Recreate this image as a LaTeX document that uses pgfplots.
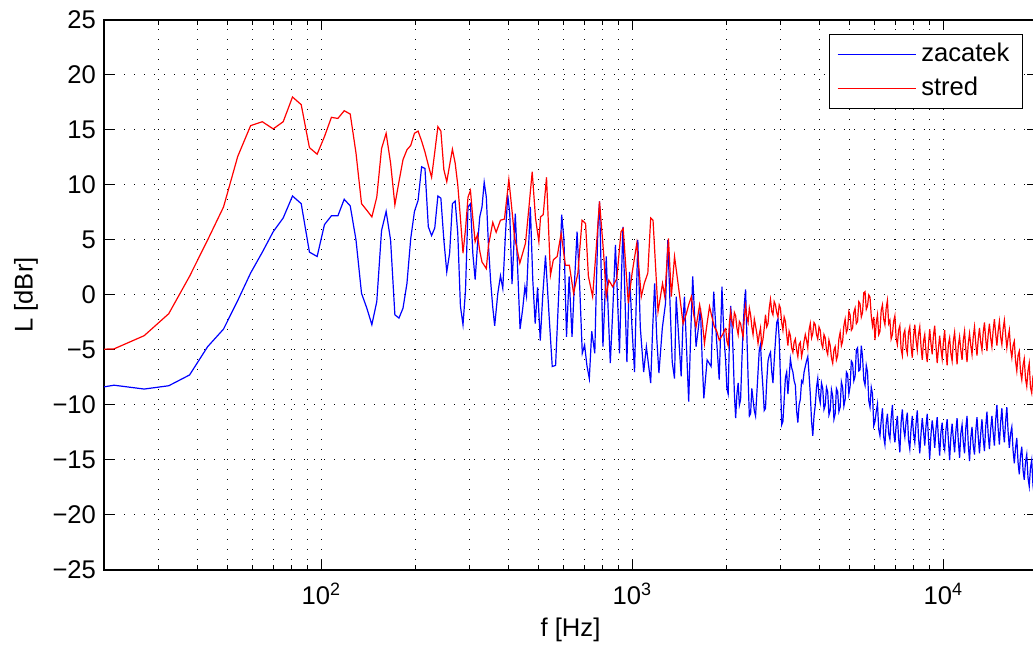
\documentclass[border=0pt]{standalone}
\usepackage{fontspec}
\setmainfont{Liberation Sans}
\usepackage{pgfplots}
\usepackage{pgfplotstable}
\pgfplotsset{compat=1.18}

% shared high-frequency part (f [Hz], zacatek, stred)
\pgfplotstableread{
f z s
1995 -6.0 -3.0
2013 -8.5 -4.2
2032 -9.0 -4.6
2051 -4.0 -2.5
2070 -1.0 -1.5
2089 -2.5 -2.4
2109 -5.5 -2.8
2128 -9.0 -1.6
2148 -11.2 -1.9
2168 -9.0 -3.0
2188 -8.0 -3.6
2208 -10.0 -2.4
2228 -9.5 -2.6
2249 -6.0 -3.3
2270 -3.0 -3.8
2291 -0.8 -2.0
2312 0.5 -1.0
2333 -3.5 -2.0
2355 -7.5 -2.5
2377 -11.0 -1.2
2399 -10.8 -1.8
2421 -8.5 -2.9
2443 -9.5 -3.6
2466 -10.5 -2.2
2489 -11.0 -2.8
2512 -9.0 -3.5
2535 -7.0 -4.4
2558 -5.0 -3.6
2582 -4.5 -3.0
2606 -6.8 -4.6
2630 -8.5 -4.0
2654 -10.5 -3.0
2679 -10.3 -1.8
2704 -7.8 -2.9
2729 -6.0 -2.6
2754 -5.5 -1.2
2780 -5.2 -0.4
2806 -7.0 -1.5
2831 -8.0 -1.8
2857 -6.0 -0.6
2884 -4.2 -0.9
2911 -2.5 -1.6
2938 -2.2 -2.0
2965 -4.0 -0.9
2992 -7.5 -1.2
3020 -11.8 -2.5
3048 -11.5 -3.2
3076 -9.5 -2.0
3105 -7.5 -2.4
3134 -7.0 -3.6
3162 -9.0 -4.6
3191 -7.5 -3.3
3221 -5.8 -3.7
3251 -6.6 -4.8
3281 -7.0 -5.2
3311 -7.8 -4.3
3342 -8.2 -4.0
3373 -10.5 -5.0
3404 -11.6 -5.6
3435 -10.0 -4.5
3467 -9.5 -4.3
3499 -7.8 -5.6
3532 -8.0 -5.0
3565 -7.0 -4.2
3597 -6.5 -3.6
3630 -6.0 -4.1
3664 -5.6 -4.8
3698 -7.2 -3.2
3733 -9.0 -2.6
3768 -11.5 -3.9
3802 -12.8 -3.5
3837 -11.0 -2.5
3873 -10.0 -2.7
3909 -8.4 -3.6
3945 -7.6 -4.0
3981 -9.2 -2.9
4018 -9.8 -3.2
4055 -8.0 -4.4
4093 -8.5 -4.8
4131 -10.4 -3.6
4169 -10.0 -3.9
4208 -8.4 -5.0
4246 -8.8 -5.4
4285 -10.9 -4.1
4325 -10.5 -4.6
4365 -8.6 -5.7
4406 -9.2 -6.2
4447 -11.3 -5.0
4487 -10.8 -4.7
4529 -8.5 -5.9
4571 -8.8 -5.5
4613 -10.6 -4.0
4656 -10.2 -3.4
4699 -7.9 -4.6
4742 -8.4 -4.2
4786 -10.1 -2.8
4831 -9.5 -2.2
4876 -7.0 -3.4
4920 -7.2 -3.1
4966 -9.0 -1.5
5012 -8.3 -1.8
5058 -6.0 -3.2
5105 -6.2 -3.0
5152 -7.8 -1.6
5200 -7.4 -1.2
5248 -5.0 -2.6
5297 -4.8 -2.4
5346 -6.9 -0.6
5395 -6.8 -0.8
5445 -4.6 -2.0
5495 -5.6 -1.6
5546 -7.7 0.2
5598 -8.2 0.3
5650 -6.4 -1.3
5702 -7.0 -1.0
5755 -9.6 0.0
5808 -10.2 -0.2
5862 -8.4 -1.9
5916 -9.0 -2.8
5971 -11.9 -2.0
6026 -11.5 -4.1
6082 -10.6 -2.5
6138 -9.9 -1.8
6195 -12.2 -3.6
6252 -12.8 -3.3
6310 -11.4 -1.4
6368 -10.3 -0.9
6427 -12.9 -2.2
6486 -13.6 -2.7
6546 -11.7 -1.2
6607 -10.8 -0.5
6668 -12.6 -2.6
6730 -13.1 -2.3
6792 -11.2 -4.0
6855 -10.0 -3.6
6918 -12.4 -2.4
6982 -13.4 -1.9
7047 -11.9 -3.9
7112 -11.0 -4.5
7178 -13.0 -3.2
7244 -14.3 -2.8
7311 -11.6 -4.9
7379 -10.4 -5.5
7447 -12.1 -3.6
7516 -12.9 -3.2
7586 -11.5 -4.8
7656 -10.7 -5.3
7727 -13.2 -3.4
7798 -14.0 -2.9
7870 -12.2 -4.6
7943 -11.0 -5.7
8016 -12.6 -3.8
8091 -13.4 -2.7
8166 -11.7 -4.1
8241 -10.5 -5.0
8317 -12.9 -3.6
8395 -14.4 -2.9
8473 -12.6 -4.7
8551 -11.2 -5.9
8630 -12.4 -4.2
8710 -13.7 -3.6
8791 -11.9 -5.2
8872 -10.8 -6.1
8954 -13.1 -4.5
9036 -14.9 -3.1
9120 -12.7 -4.4
9204 -11.4 -5.4
9289 -12.4 -3.7
9376 -13.9 -2.8
9463 -12.2 -4.6
9550 -11.1 -6.2
9638 -13.0 -4.9
9727 -14.6 -3.7
9817 -12.5 -4.9
9908 -11.6 -5.8
10000 -13.6 -4.3
10093 -14.1 -3.2
10186 -12.3 -5.1
10280 -11.3 -6.4
10375 -13.2 -4.5
10471 -15.0 -3.9
10568 -12.9 -5.3
10666 -11.7 -6.0
10765 -13.1 -4.2
10864 -14.3 -3.4
10964 -12.4 -4.9
11066 -11.2 -6.3
11168 -13.3 -4.6
11272 -14.8 -3.8
11376 -12.6 -5.0
11482 -11.8 -5.9
11588 -13.4 -4.1
11695 -14.4 -3.3
11803 -12.1 -4.9
11912 -11.0 -6.1
12022 -13.6 -4.4
12134 -15.1 -3.5
12246 -13.0 -4.6
12359 -12.0 -5.4
12473 -13.7 -3.8
12589 -14.5 -2.9
12705 -12.4 -4.4
12823 -11.1 -5.5
12942 -12.9 -4.0
13062 -14.4 -3.0
13183 -12.6 -4.3
13305 -11.3 -5.0
13428 -13.1 -3.4
13552 -14.2 -2.5
13677 -12.0 -4.0
13804 -10.6 -5.1
13932 -12.7 -3.6
14060 -14.0 -2.6
14190 -12.2 -3.9
14322 -11.0 -4.7
14454 -12.5 -3.2
14588 -13.7 -2.2
14723 -11.4 -3.5
14859 -10.0 -4.6
14996 -12.1 -3.3
15136 -13.6 -2.4
15276 -11.6 -3.8
15417 -10.3 -4.5
15560 -12.2 -3.1
15704 -13.4 -2.3
15849 -11.5 -3.6
15996 -10.2 -4.8
16144 -12.4 -3.9
16293 -13.9 -3.2
16444 -12.6 -4.9
16596 -12.0 -5.7
16749 -14.1 -4.6
16904 -15.3 -4.2
17060 -13.9 -6.0
17219 -13.0 -6.9
17378 -15.2 -5.5
17539 -16.3 -5.1
17701 -14.6 -7.0
17865 -13.8 -7.7
18030 -15.9 -6.4
18197 -16.8 -5.8
18365 -15.2 -7.6
18535 -14.5 -8.3
18706 -16.6 -6.9
18880 -17.4 -6.2
19055 -15.7 -8.4
19231 -15.0 -8.9
19409 -17.3 -7.4
19588 -18.2 -7.1
19769 -16.5 -9.0
19953 -16.2 -9.8
}\hightab

\begin{document}
\begin{tikzpicture}
\begin{axis}[
    name=ax,
    scale only axis,
    width=466.5pt, height=275pt,
    xmode=log,
    xmin=20, xmax=20000,
    ymin=-25, ymax=25,
    xtick={100,1000,10000},
    xticklabels={10\textsuperscript{2},10\textsuperscript{3},10\textsuperscript{4}},
    minor xtick={20,30,40,50,60,70,80,90,200,300,400,500,600,700,800,900,2000,3000,4000,5000,6000,7000,8000,9000},
    ytick={-25,-20,...,25},
    yticklabels={−25,−20,−15,−10,−5,0,5,10,15,20,25},
    xmajorgrids, xminorgrids, ymajorgrids,
    major grid style={black, line width=0.5pt, dash pattern=on 0.6pt off 4.4pt},
    minor grid style={black, line width=0.5pt, dash pattern=on 0.6pt off 4.4pt},
    major tick length=5pt, minor tick length=2.5pt,
    tick style={black, line width=0.5pt},
    axis line style={black, line width=0.6pt},
    tick label style={font=\fontsize{12.8}{15}\selectfont},
    xticklabel style={yshift=-3pt},
    yticklabel style={xshift=-0.5pt},
    xlabel={f [Hz]},
    ylabel={L [dBr]},
    every axis x label/.style={at={(axis description cs:0.5,0)}, yshift=-30pt, anchor=center, font=\fontsize{12.8}{15}\selectfont},
    every axis y label/.style={at={(axis description cs:0,0.5)}, xshift=-39pt, rotate=90, anchor=center, font=\fontsize{12.8}{15}\selectfont},
    legend style={at={(axis description cs:1,1)}, anchor=north east, xshift=-7pt, yshift=-7pt,
        draw=black, line width=0.5pt, font=\fontsize{12.8}{15}\selectfont,
        inner xsep=4pt, inner ysep=1.5pt, row sep=0pt,
        nodes={text height=9.5pt, text depth=2.5pt, inner sep=2.5pt},
        cells={anchor=west}},
    legend image code/.code={\draw[#1] (0pt,0pt) -- (39pt,0pt);},
]
\addplot[blue, line width=0.6pt] coordinates {
(16.15,-8.8) (21.53,-8.2) (26.92,-8.55) (32.30,-8.25) (37.68,-7.27) (43.07,-4.7)
(48.45,-3.1) (53.83,-0.5) (59.22,2.0) (64.6,3.9) (69.98,5.75) (75.37,7.0)
(80.75,9.0) (86.13,8.3) (91.52,3.9) (96.9,3.5) (102.3,6.4) (107.7,7.2)
(113.0,7.2) (118.4,8.7) (123.8,8.1) (129.2,5.0) (134.6,0.15) (140.0,-1.2)
(145.3,-2.7) (150.7,-0.6) (156.1,5.85) (161.5,7.6) (166.9,5.0) (172.3,-1.8)
(177.6,-2.1) (183.0,-1.2) (188.4,1.05) (193.8,5.15) (199.2,7.6) (204.6,8.6)
(210.0,11.65) (215.3,11.5) (220.7,6.2) (226.1,5.4) (231.5,6.1) (236.9,9.0)
(242.2,8.8) (247.6,5.0) (253.0,2.1) (258.4,3.8) (263.8,8.3) (269.2,8.55)
(274.5,5.6) (279.9,-1.0) (285.3,-2.7) (290.7,0.45) (296.1,8.0) (301.5,8.3)
(306.8,3.8) (312.2,1.4) (317.6,4.55) (323.0,7.1) (328.4,8.0) (333.8,10.25)
(339.1,8.9) (344.5,4.5) (349.9,1.35) (355.3,-1.0) (360.7,-2.8) (369.2,0.15)
(376.6,1.75) (383.1,0.6) (390.9,5.6) (397.4,9.1) (403.3,7.4) (410.1,1.0)
(415.0,4.0) (420.2,7.4) (427.3,2.6) (435.3,-3.1) (444.1,-1.2) (451.2,0.75)
(456.4,-0.1) (463.0,4.0) (469.7,8.0) (478.3,1.35) (486.9,-2.6) (495.6,0.7)
(505.5,-4.15) (515.0,0.0) (525.5,3.6) (540.0,-2.0) (552.4,-6.5) (566.3,-6.4)
(580.3,0.45) (592.4,7.3) (602.5,5.0) (614,-3.8) (626,1.7) (639.6,-3.8)
(651,1.0) (664,5.75) (677,0.75) (690,-5.3) (702,-4.55) (714,-6.4) (727,-7.6)
(740,-3.3) (757,-5.3) (766,1.0) (775,6.2) (784,8.5) (794,2.0) (804,-4.7) (814,-1.0) (824,3.5)
(836,-1.5) (849,-6.2) (866,-1.0) (882,4.55) (895,0.0) (909,-5.3) (920,0.5) (932,6.2) (946,0.0) (960,-6.1) (979,2.1)
(997,-3.0) (1016,-7.0) (1028,-1.0) (1041,5.0) (1060,-2.9) (1087,-7.0) (1109,-4.7) (1145,-8.0)
(1162,-3.0) (1179,1.05) (1198,-4.0) (1217,-7.1) (1248,-3.0) (1278,-0.75) (1300,5.0) (1322,-1.0) (1343,-6.1) (1366,-7.6)
(1383,-0.15) (1410,-4.0) (1435,-7.4) (1452,-3.0) (1470,-0.15) (1494,-5.0) (1517,-9.7) (1540,-3.5) (1563,1.7) (1602,-4.7)
(1630,-3.0) (1655,-1.2) (1677,-6.0) (1697,-9.4) (1739,-5.9) (1791,-6.5) (1810,-2.5) (1826,0.3) (1864,-4.0) (1902,-7.7)
(1941,0.75) (1968,-3.5) (1995,-6.0)
};
\addlegendentry{zacatek}
\addplot[red, line width=0.6pt] coordinates {
(16.15,-5.0) (21.53,-4.9) (26.92,-3.7) (32.30,-1.7) (37.68,1.7) (43.07,5.0)
(48.45,8.0) (53.83,12.6) (59.22,15.4) (64.6,15.75) (69.98,15.1) (75.37,15.75)
(80.75,18.0) (86.13,17.3) (91.52,13.4) (96.9,12.8) (102.3,14.4) (107.7,16.15)
(113.0,16.05) (118.4,16.75) (123.8,16.45) (129.2,12.9) (134.6,8.3) (140.0,7.7)
(145.3,7.1) (150.7,8.9) (156.1,13.3) (161.5,14.7) (166.9,12.0) (172.3,8.2)
(177.6,10.3) (183.0,12.3) (188.4,13.2) (193.8,13.6) (199.2,14.7) (204.6,14.9)
(210.0,14.0) (215.3,13.0) (220.7,11.8) (226.1,10.7) (231.5,13.0) (236.9,15.3)
(242.2,14.9) (247.6,11.4) (253.0,10.3) (258.4,11.8) (263.8,13.25) (269.2,12.0)
(274.5,10.0) (279.9,7.0) (285.3,3.8) (290.7,6.0) (296.1,8.9) (301.5,9.5)
(306.8,7.0) (312.2,4.85) (317.6,5.5) (323.0,4.0) (328.4,3.0) (333.8,2.7)
(339.1,2.4) (344.5,4.5) (355.7,6.6) (364.7,5.7) (376.6,6.8) (387.9,6.9)
(400.6,10.5) (409,8.0) (417.8,5.3) (434.5,2.9) (453.1,4.7) (465,8.0)
(476.2,11.2) (488,7.0) (500.3,4.85) (506.5,7.1) (516.7,7.3) (529.5,10.7)
(545.2,1.8) (557,3.2) (573,3.5) (590,5.6) (609,2.7) (627,2.7)
(647,0.15) (668,2.0) (689,6.8) (707,6.5) (722,1.7) (745,-0.15)
(766,4.4) (784,8.5) (808,3.8) (824,-0.15) (840,1.35) (864,0.75)
(891,1.5) (919,5.75) (934,6.05) (970,-0.75) (998,2.0) (1033,4.7)
(1068,-0.15) (1092,1.05) (1121,2.0) (1145,7.0) (1165,6.8) (1209,-1.5)
(1250,1.05) (1271,-0.15) (1306,5.15) (1334,-0.15) (1366,3.5) (1420,-0.15)
(1455,-2.6) (1491,-1.7) (1520,-0.8) (1547,-0.15) (1575,-1.8) (1602,-2.9) (1645,-0.9) (1675,-2.2) (1705,-4.4)
(1738,-2.6) (1770,-1.05) (1802,-2.0) (1835,-2.9) (1868,-3.3) (1902,-4.1) (1950,-3.6) (1995,-3.0)
};
\addlegendentry{stred}
\addplot[blue, line width=0.6pt, forget plot] table[x=f, y=z] {\hightab};
\addplot[red, line width=0.6pt, forget plot] table[x=f, y=s] {\hightab};
\end{axis}
\pgfresetboundingbox
\path[use as bounding box] ([xshift=-52pt,yshift=-40pt]ax.south west) rectangle ([xshift=-2pt,yshift=10pt]ax.north east);
\end{tikzpicture}
\end{document}
